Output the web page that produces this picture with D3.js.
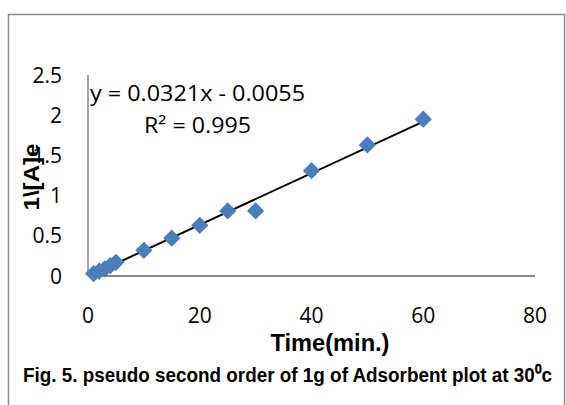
<!DOCTYPE html>
<html>
<head>
<meta charset="utf-8">
<script src="https://cdn.jsdelivr.net/npm/d3@7"></script>
<style>
  body { margin: 0; background: white; }
  svg { display: block; }
</style>
</head>
<body>
<div id="chart"></div>
<script>
// Data
var timeMin = [1, 2, 3, 4, 5, 10, 15, 20, 25, 30, 40, 50, 60];
var invA = [0.03, 0.06, 0.09, 0.13, 0.17, 0.32, 0.47, 0.63, 0.81, 0.81, 1.31, 1.63, 1.95];
var xTicks = [0, 20, 40, 60, 80];
var yTicks = [0, 0.5, 1, 1.5, 2, 2.5];
var yTickLabels = ["0", "0.5", "1", "1.5", "2", "2.5"];
var slope = 0.0321, intercept = -0.0055;
var eqLabel = "y = 0.0321x - 0.0055";
var r2Label = "R\u00B2 = 0.995";

var W = 566, H = 405;
var svg = d3.select("#chart").append("svg")
    .attr("width", W)
    .attr("height", H);

// Outer chart border
svg.append("rect")
    .attr("x", 8.5).attr("y", 14.5)
    .attr("width", 556).attr("height", 400)
    .style("fill", "none")
    .style("stroke", "#8c8c8c")
    .style("stroke-width", 1.5);

// Scales
var x = d3.scaleLinear().domain([0, 80]).range([88, 535]);
var y = d3.scaleLinear().domain([0, 2.5]).range([276, 75]);

// Axis lines
svg.append("line")
    .attr("x1", x(0)).attr("x2", x(80))
    .attr("y1", y(0)).attr("y2", y(0))
    .style("stroke", "#868686").style("stroke-width", 2);
svg.append("line")
    .attr("x1", x(0)).attr("x2", x(0))
    .attr("y1", y(0)).attr("y2", y(2.5))
    .style("stroke", "#868686").style("stroke-width", 1.5);

var tickFont = "Open Sans, Liberation Sans, Arial";

// Tick labels
svg.selectAll("text.xt")
    .data(xTicks)
    .enter().append("text")
    .attr("class", "xt")
    .attr("x", function(d) { return x(d); })
    .attr("y", 323)
    .style("font-family", tickFont)
    .style("font-size", "21px")
    .style("text-anchor", "middle")
    .text(function(d) { return d; });

svg.selectAll("text.yt")
    .data(yTicks)
    .enter().append("text")
    .attr("class", "yt")
    .attr("x", 62)
    .attr("y", function(d) { return y(d); })
    .attr("dy", ".36em")
    .style("font-family", tickFont)
    .style("font-size", "21px")
    .style("text-anchor", "end")
    .text(function(d, i) { return yTickLabels[i]; });

// Trendline
svg.append("line")
    .attr("x1", x(d3.min(timeMin)))
    .attr("y1", y(slope * d3.min(timeMin) + intercept))
    .attr("x2", x(d3.max(timeMin)))
    .attr("y2", y(slope * d3.max(timeMin) + intercept))
    .style("stroke", "black")
    .style("stroke-width", 2);

// Diamond markers
var diamond = d3.symbol().type(d3.symbolDiamond2).size(190);
svg.selectAll("path.pt")
    .data(timeMin)
    .enter().append("path")
    .attr("class", "pt")
    .attr("d", diamond)
    .attr("transform", function(d, i) { return "translate(" + x(d) + "," + y(invA[i]) + ")"; })
    .style("fill", "#4a7ebb");

// Trendline equation
svg.append("text")
    .attr("x", 90).attr("y", 101)
    .attr("textLength", 215)
    .attr("lengthAdjust", "spacingAndGlyphs")
    .style("font-family", tickFont)
    .style("font-size", "22px")
    .text(eqLabel);
svg.append("text")
    .attr("x", 144).attr("y", 133)
    .attr("textLength", 107)
    .attr("lengthAdjust", "spacingAndGlyphs")
    .style("font-family", tickFont)
    .style("font-size", "22px")
    .text(r2Label);

// Axis titles
svg.append("text")
    .attr("x", 330).attr("y", 351)
    .attr("textLength", 119)
    .attr("lengthAdjust", "spacingAndGlyphs")
    .style("font-family", "Liberation Sans, Arial")
    .style("font-weight", "bold")
    .style("font-size", "23px")
    .style("text-anchor", "middle")
    .text("Time(min.)");

svg.append("text")
    .attr("transform", "translate(39,177) rotate(-90)")
    .attr("textLength", 67)
    .attr("lengthAdjust", "spacingAndGlyphs")
    .style("font-family", "Liberation Sans, Arial")
    .style("font-weight", "bold")
    .style("font-size", "22px")
    .style("text-anchor", "middle")
    .text("1\\[A]e");

// Figure caption (narrow bold face, squeezed horizontally to fit)
var cap = svg.append("text")
    .attr("x", 0).attr("y", 0)
    .style("font-family", "Liberation Sans Narrow, Liberation Sans, Arial")
    .style("font-weight", "bold")
    .style("font-size", "21px")
    .text("Fig. 5. pseudo second order of 1g of Adsorbent plot at 30\u2070c");
var capW = cap.node().getComputedTextLength();
cap.attr("transform", "translate(23,382) scale(" + (529 / capW) + ",1)");
</script>
</body>
</html>
